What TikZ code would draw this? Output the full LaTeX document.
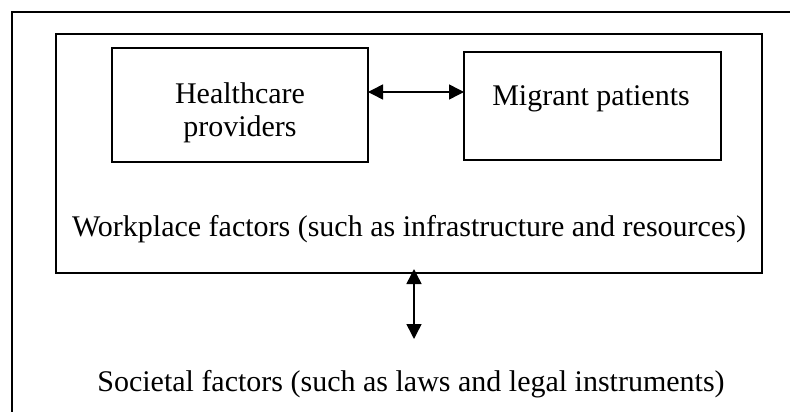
\documentclass[tikz,border=0pt]{standalone}
\usepackage{fontspec}
\setmainfont{Liberation Serif}
\usetikzlibrary{arrows.meta}

\begin{document}
\begin{tikzpicture}[x=1pt, y=-1pt, line width=1.5pt,
    both/.style={{Triangle[length=15pt,width=15pt]}-{Triangle[length=15pt,width=15pt]}},
    txt/.style={font=\fontsize{30}{33}\selectfont, inner sep=0pt}]
            \useasboundingbox (0, 0) rectangle (790, 412);
            % outer frame
            \coordinate (o1) at (12, 412);
            \coordinate (o2) at (12, 12);
            \coordinate (o3) at (790, 12);
            \draw (o1) -- (o2) -- (o3);
            % workplace box
            \coordinate (w1) at (56, 34);
            \coordinate (w2) at (762, 273);
            \draw (w1) rectangle (w2);
            \coordinate (h1) at (112, 48);
            \coordinate (h2) at (368, 162);
            \draw (h1) rectangle (h2);
            \coordinate (m1) at (464, 52);
            \coordinate (m2) at (721, 160);
            \draw (m1) rectangle (m2);
            \node[txt, align=center] (hc) at (240, 113) {Healthcare\\providers};
            \node[txt, anchor=base] (mp) at (591, 105) {Migrant patients};
            \node[txt, anchor=base] (wf) at (409, 236) {Workplace factors (such as infrastructure and resources)};
            \node[txt, anchor=base] (sf) at (411, 391) {Societal factors (such as laws and legal instruments)};
            % arrows
            \coordinate (a1) at (368, 92);
            \coordinate (a2) at (464, 92);
            \draw[both] (a1) -- (a2);
            \coordinate (b1) at (414, 269);
            \coordinate (b2) at (414, 339);
            \draw[both] (b1) -- (b2);
        \end{tikzpicture}
\end{document}
